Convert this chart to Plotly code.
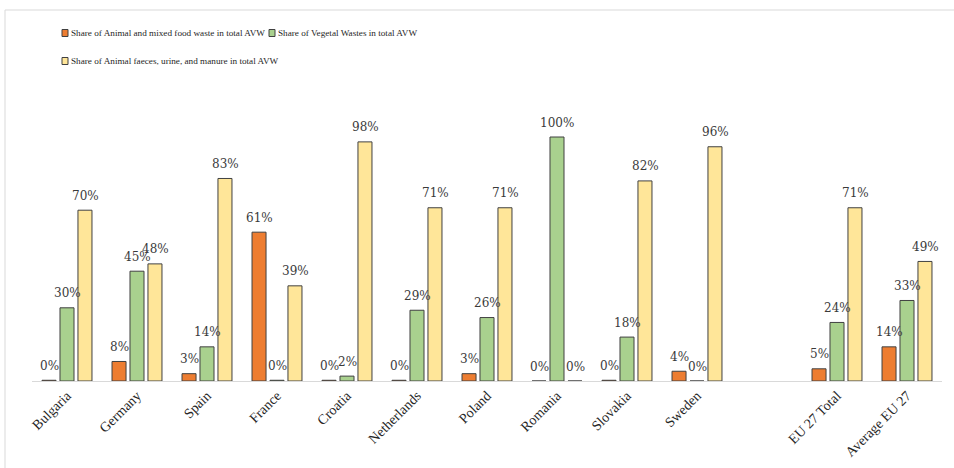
import plotly.graph_objects as go

# ---- data ----
categories = ["Bulgaria", "Germany", "Spain", "France", "Croatia", "Netherlands",
              "Poland", "Romania", "Slovakia", "Sweden", " ", "EU 27 Total", "Average EU 27"]
animal_food = [0.3, 8, 3, 61, 0.3, 0.3, 3, 0, 0.3, 4, None, 5, 14]
vegetal = [30, 45, 14, 0.3, 2, 29, 26, 100, 18, 0, None, 24, 33]
faeces = [70, 48, 83, 39, 98, 71, 71, 0, 82, 96, None, 71, 49]
series_names = ["Share of Animal and mixed food waste in total AVW",
                "Share of Vegetal Wastes in total AVW",
                "Share of Animal faeces, urine, and manure in total AVW"]
series_values = [animal_food, vegetal, faeces]
colors = ["#ED7D31", "#A9D18E", "#FFE699"]

# ---- layout geometry ----
W, H = 954, 468
ML, MR, MT, MB = 32, 12, 100, 87
PW, PH = W - ML - MR, H - MT - MB


def px(x):
    return (x - ML) / PW


def py(y):
    return (H - MB - y) / PH


fig = go.Figure()
for name, vals, col in zip(series_names, series_values, colors):
    fig.add_trace(go.Bar(
        x=categories, y=vals, name=name,
        marker=dict(color=col, line=dict(color="#404040", width=1)),
        showlegend=False, hoverinfo="skip",
    ))

annotations = []
offsets = [-18, 0, 18]
for vals, off in zip(series_values, offsets):
    for c, v in zip(categories, vals):
        if v is None:
            continue
        annotations.append(dict(
            x=c, y=v, xref="x", yref="y", text=f"{round(v)}%",
            showarrow=False, xshift=off, yshift=14.5, yanchor="middle",
            font=dict(family="DejaVu Serif", size=12, color="#3a3a3a"),
        ))

# custom legend (marker immediately left of text)
legend_pos = [(62, 33), (269, 33), (62, 61)]
shapes = []
for (lx, ly), name, col in zip(legend_pos, series_names, colors):
    shapes.append(dict(type="rect", xref="paper", yref="paper",
                       x0=px(lx), x1=px(lx + 6), y0=py(ly + 3.5), y1=py(ly - 3.5),
                       fillcolor=col, line=dict(color="#404040", width=1)))
    annotations.append(dict(x=px(lx + 7), y=py(ly), xref="paper", yref="paper",
                            text=name, showarrow=False, xanchor="left", yanchor="middle",
                            font=dict(family="Liberation Serif", size=9.2, color="#262626")))

# outer frame
shapes.append(dict(type="rect", xref="paper", yref="paper",
                   x0=px(5), x1=px(962), y0=py(475), y1=py(10),
                   line=dict(color="#D9D9D9", width=1), fillcolor="rgba(0,0,0,0)", layer="below"))

fig.update_layout(
    width=W, height=H,
    margin=dict(l=ML, r=MR, t=MT, b=MB, pad=0, autoexpand=False),
    paper_bgcolor="white", plot_bgcolor="white",
    barmode="group", bargap=0.23, bargroupgap=0.22,
    annotations=annotations, shapes=shapes, hovermode=False,
    xaxis=dict(type="category", tickangle=-45, showline=True, linecolor="#D9D9D9",
               linewidth=1, ticks="", showgrid=False, automargin=False, fixedrange=True,
               tickfont=dict(family="Liberation Serif", size=14, color="#262626")),
    yaxis=dict(range=[0, PH / 2.44], visible=False, showgrid=False, zeroline=False,
               automargin=False, fixedrange=True),
)

fig.write_html("out.html", config={"displayModeBar": False},
               post_script="document.body.style.margin='0px';document.body.style.overflow='hidden';")
